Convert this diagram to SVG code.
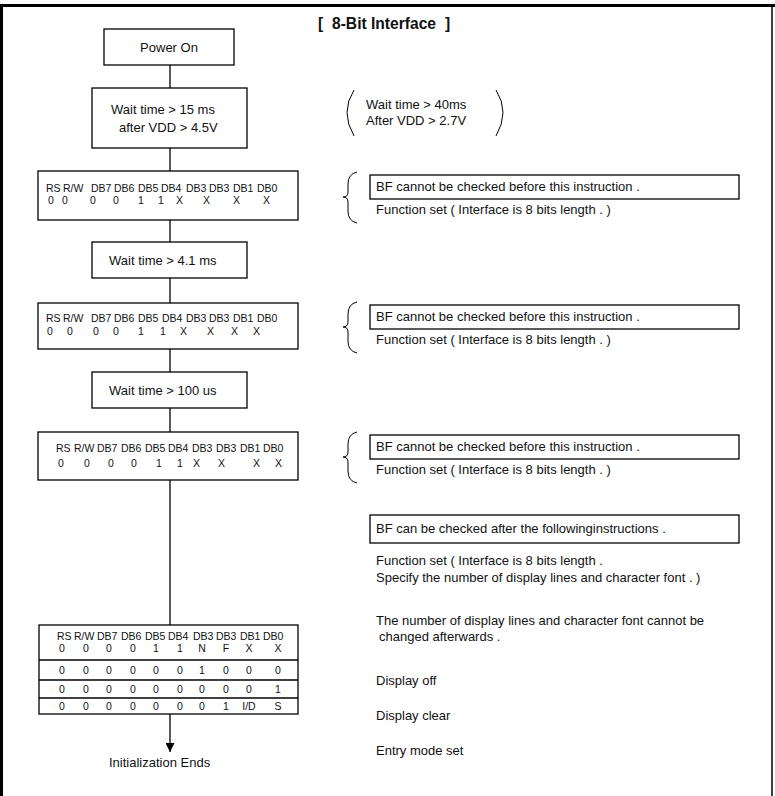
<svg xmlns="http://www.w3.org/2000/svg" width="775" height="796" viewBox="0 0 775 796">
<defs>
<style>
text{font-family:"Liberation Sans",Arial,sans-serif;fill:#111;}
.t{font-size:13px;}
.r{font-size:10.5px;}
.title{font-size:15.6px;font-weight:bold;}
.box{fill:#fff;stroke:#000;stroke-width:1.3;}
.ln{stroke:#000;stroke-width:1.3;fill:none;}
.br{stroke:#000;stroke-width:1;fill:none;}
</style>
<marker id="arr" viewBox="0 0 10 10" refX="10" refY="5" markerWidth="9" markerHeight="9" markerUnits="userSpaceOnUse" orient="auto">
<path d="M0,0 L10,5 L0,10 Z" fill="#000"/>
</marker>
</defs>
<rect width="775" height="796" fill="#fff"/>
<g id="frame">
<line x1="0" y1="5.5" x2="775" y2="5.5" stroke="#000" stroke-width="3"/>
<line x1="1.5" y1="5" x2="1.5" y2="796" stroke="#000" stroke-width="3"/>
<line x1="772" y1="5" x2="772" y2="796" stroke="#000" stroke-width="1.5"/>
</g>
<g id="title">
<text class="title" x="318" y="29">[</text>
<text class="title" x="332" y="29">8-Bit Interface</text>
<text class="title" x="445" y="29">]</text>
</g>
<g id="connectors">
<line class="ln" x1="170" y1="65" x2="170" y2="88"/>
<line class="ln" x1="170" y1="148" x2="170" y2="171"/>
<line class="ln" x1="170" y1="220" x2="170" y2="242"/>
<line class="ln" x1="170" y1="278" x2="170" y2="303"/>
<line class="ln" x1="170" y1="349" x2="170" y2="372"/>
<line class="ln" x1="170" y1="408" x2="170" y2="432"/>
<line class="ln" x1="170" y1="480" x2="170" y2="625"/>
<line class="ln" x1="170" y1="714" x2="170" y2="752" marker-end="url(#arr)"/>
</g>
<g id="power-on">
<rect class="box" x="104" y="29" width="130" height="36"/>
<text class="t" x="169" y="52" text-anchor="middle">Power On</text>
</g>
<g id="wait-15ms">
<rect class="box" x="92" y="88" width="155" height="60"/>
<text class="t" x="111" y="114">Wait time &gt; 15 ms</text>
<text class="t" x="119" y="132">after VDD &gt; 4.5V</text>
</g>
<g id="note-40ms">
<path class="br" d="M354,90 Q340,112 354,136"/>
<path class="br" d="M496,90 Q510,112 496,136"/>
<text class="t" x="366" y="109">Wait time &gt; 40ms</text>
<text class="t" x="366" y="125">After VDD &gt; 2.7V</text>
</g>
<g id="reg-1">
<rect class="box" x="38" y="171" width="260" height="49"/>
<text class="r" x="46" y="192">RS</text><text class="r" x="63" y="192">R/W</text><text class="r" x="91" y="192">DB7</text><text class="r" x="114" y="192">DB6</text><text class="r" x="138" y="192">DB5</text><text class="r" x="161" y="192">DB4</text><text class="r" x="186" y="192">DB3</text><text class="r" x="209" y="192">DB3</text><text class="r" x="233" y="192">DB1</text><text class="r" x="257" y="192">DB0</text>
<text class="r" x="48" y="204">0</text><text class="r" x="62" y="204">0</text><text class="r" x="90" y="204">0</text><text class="r" x="113" y="204">0</text><text class="r" x="138" y="204">1</text><text class="r" x="158" y="204">1</text><text class="r" x="176" y="204">X</text><text class="r" x="203" y="204">X</text><text class="r" x="233" y="204">X</text><text class="r" x="263" y="204">X</text>
</g>
<g id="note-1">
<path class="br" d="M357,172 Q348,174 348,184 L348,192 Q348,197 343,197 Q348,197 348,202 L348,211 Q348,221 357,223"/>
<rect class="box" x="370" y="175" width="369" height="24"/>
<text class="t" x="376" y="191">BF cannot be checked before this instruction .</text>
<text class="t" x="376" y="214">Function set ( Interface is 8 bits length . )</text>
</g>
<g id="wait-4ms">
<rect class="box" x="92" y="242" width="155" height="36"/>
<text class="t" x="109" y="265">Wait time &gt; 4.1 ms</text>
</g>
<g id="reg-2">
<rect class="box" x="38" y="303" width="260" height="46"/>
<text class="r" x="46" y="322">RS</text><text class="r" x="63" y="322">R/W</text><text class="r" x="91" y="322">DB7</text><text class="r" x="114" y="322">DB6</text><text class="r" x="138" y="322">DB5</text><text class="r" x="162" y="322">DB4</text><text class="r" x="186" y="322">DB3</text><text class="r" x="209" y="322">DB3</text><text class="r" x="233" y="322">DB1</text><text class="r" x="257" y="322">DB0</text>
<text class="r" x="47" y="335">0</text><text class="r" x="67" y="335">0</text><text class="r" x="93" y="335">0</text><text class="r" x="113" y="335">0</text><text class="r" x="138" y="335">1</text><text class="r" x="160" y="335">1</text><text class="r" x="180" y="335">X</text><text class="r" x="207" y="335">X</text><text class="r" x="231" y="335">X</text><text class="r" x="253" y="335">X</text>
</g>
<g id="note-2">
<path class="br" d="M357,302 Q348,304 348,314 L348,322 Q348,327 343,327 Q348,327 348,332 L348,341 Q348,351 357,353"/>
<rect class="box" x="370" y="305" width="369" height="24"/>
<text class="t" x="376" y="321">BF cannot be checked before this instruction .</text>
<text class="t" x="376" y="344">Function set ( Interface is 8 bits length . )</text>
</g>
<g id="wait-100us">
<rect class="box" x="92" y="372" width="155" height="36"/>
<text class="t" x="109" y="395">Wait time &gt; 100 us</text>
</g>
<g id="reg-3">
<rect class="box" x="38" y="432" width="260" height="48"/>
<text class="r" x="56" y="452">RS</text><text class="r" x="74" y="452">R/W</text><text class="r" x="97" y="452">DB7</text><text class="r" x="121" y="452">DB6</text><text class="r" x="145" y="452">DB5</text><text class="r" x="168" y="452">DB4</text><text class="r" x="192" y="452">DB3</text><text class="r" x="216" y="452">DB3</text><text class="r" x="240" y="452">DB1</text><text class="r" x="263" y="452">DB0</text>
<text class="r" x="58" y="467">0</text><text class="r" x="84" y="467">0</text><text class="r" x="108" y="467">0</text><text class="r" x="131" y="467">0</text><text class="r" x="156" y="467">1</text><text class="r" x="177" y="467">1</text><text class="r" x="193" y="467">X</text><text class="r" x="218" y="467">X</text><text class="r" x="253" y="467">X</text><text class="r" x="275" y="467">X</text>
</g>
<g id="note-3">
<path class="br" d="M357,432 Q348,434 348,444 L348,452 Q348,457 343,457 Q348,457 348,462 L348,471 Q348,481 357,483"/>
<rect class="box" x="370" y="435" width="369" height="24"/>
<text class="t" x="376" y="451">BF cannot be checked before this instruction .</text>
<text class="t" x="376" y="474">Function set ( Interface is 8 bits length . )</text>
</g>
<g id="note-4">
<rect class="box" x="370" y="515" width="369" height="28"/>
<text class="t" x="376" y="533">BF can be checked after the followinginstructions .</text>
<text class="t" x="376" y="565">Function set ( Interface is 8 bits length .</text>
<text class="t" x="376" y="582">Specify the number of display lines and character font . )</text>
<text class="t" x="376" y="625">The number of display lines and character font cannot be</text>
<text class="t" x="379" y="641">changed afterwards .</text>
<text class="t" x="376" y="685">Display off</text>
<text class="t" x="376" y="720">Display clear</text>
<text class="t" x="376" y="755">Entry mode set</text>
</g>
<g id="table">
<rect class="box" x="39" y="625" width="259" height="89"/>
<line class="ln" x1="39" y1="660" x2="298" y2="660"/>
<line class="ln" x1="39" y1="680" x2="298" y2="680"/>
<line class="ln" x1="39" y1="698" x2="298" y2="698"/>
<text class="r" x="57" y="640">RS</text><text class="r" x="74" y="640">R/W</text><text class="r" x="97" y="640">DB7</text><text class="r" x="121" y="640">DB6</text><text class="r" x="145" y="640">DB5</text><text class="r" x="168" y="640">DB4</text><text class="r" x="193" y="640">DB3</text><text class="r" x="216" y="640">DB3</text><text class="r" x="240" y="640">DB1</text><text class="r" x="263" y="640">DB0</text>
<g text-anchor="middle">
<text class="r" x="62" y="652">0</text><text class="r" x="86" y="652">0</text><text class="r" x="109" y="652">0</text><text class="r" x="133" y="652">0</text><text class="r" x="156" y="652">1</text><text class="r" x="180" y="652">1</text><text class="r" x="202" y="652">N</text><text class="r" x="226" y="652">F</text><text class="r" x="249" y="652">X</text><text class="r" x="278" y="652">X</text>
<text class="r" x="62" y="674">0</text><text class="r" x="86" y="674">0</text><text class="r" x="109" y="674">0</text><text class="r" x="133" y="674">0</text><text class="r" x="156" y="674">0</text><text class="r" x="180" y="674">0</text><text class="r" x="202" y="674">1</text><text class="r" x="226" y="674">0</text><text class="r" x="249" y="674">0</text><text class="r" x="278" y="674">0</text>
<text class="r" x="62" y="693">0</text><text class="r" x="86" y="693">0</text><text class="r" x="109" y="693">0</text><text class="r" x="133" y="693">0</text><text class="r" x="156" y="693">0</text><text class="r" x="180" y="693">0</text><text class="r" x="202" y="693">0</text><text class="r" x="226" y="693">0</text><text class="r" x="249" y="693">0</text><text class="r" x="278" y="693">1</text>
<text class="r" x="62" y="710">0</text><text class="r" x="86" y="710">0</text><text class="r" x="109" y="710">0</text><text class="r" x="133" y="710">0</text><text class="r" x="156" y="710">0</text><text class="r" x="180" y="710">0</text><text class="r" x="202" y="710">0</text><text class="r" x="226" y="710">1</text><text class="r" x="249" y="710">I/D</text><text class="r" x="278" y="710">S</text>
</g>
</g>
<g id="end">
<text class="t" x="109" y="767">Initialization Ends</text>
</g>
</svg>
